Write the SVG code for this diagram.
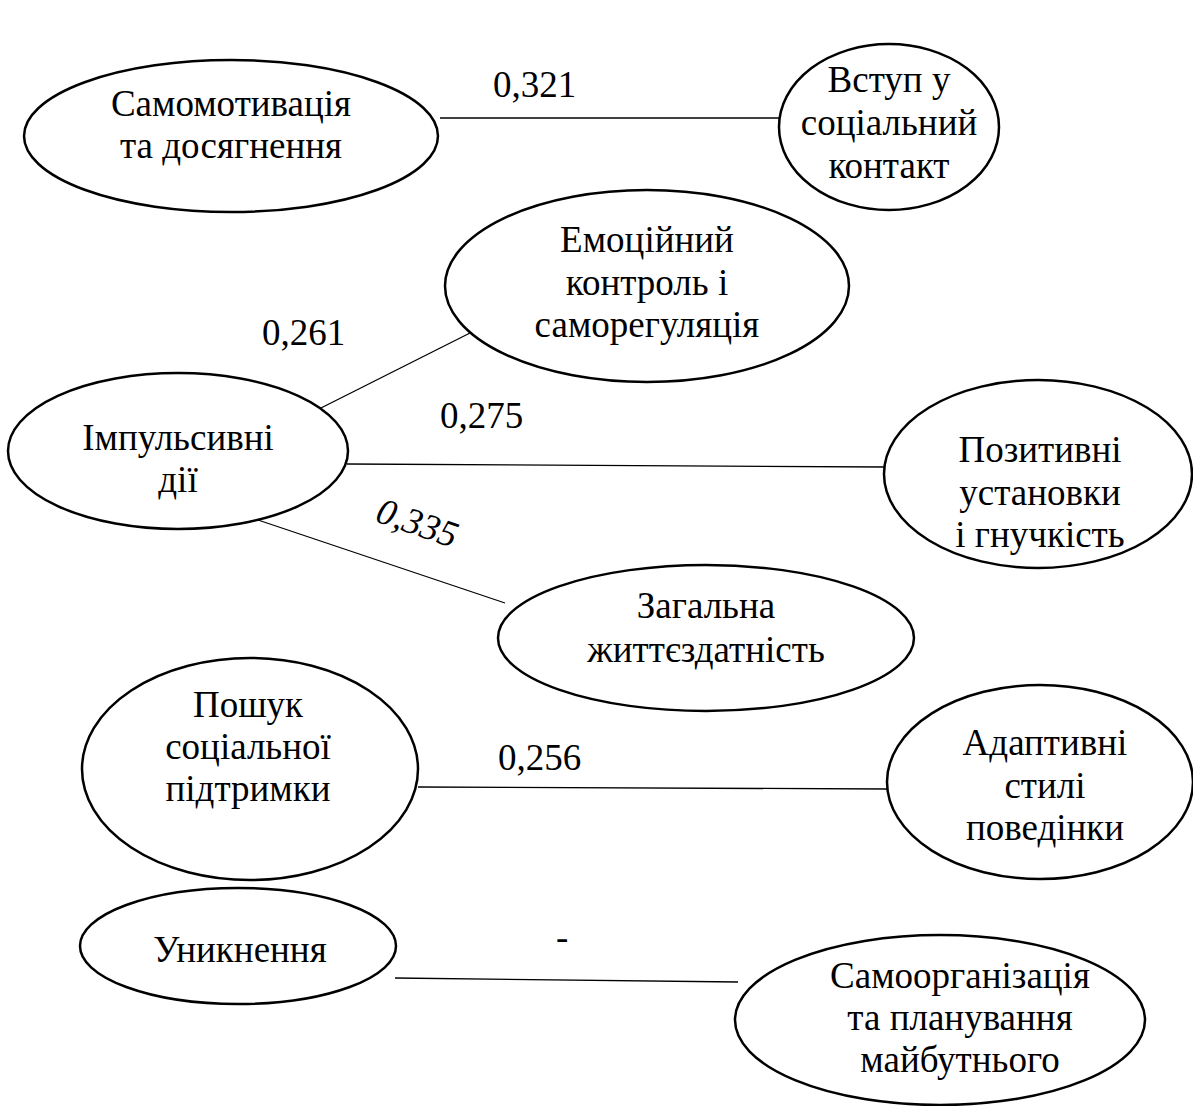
<svg xmlns="http://www.w3.org/2000/svg" width="1193" height="1106" viewBox="0 0 1193 1106" font-family="Liberation Serif, Tinos, Times New Roman, serif">
<style>
.n ellipse{fill:#fff;stroke:#000;stroke-width:2.5}
text{font-family:'Liberation Serif',Tinos,'Times New Roman',serif;font-size:37px;fill:#000}
.n text{text-anchor:middle}
.c line{stroke:#000;stroke-width:1.3}
</style>
<rect width="1193" height="1106" fill="#fff"/>
<g class="c">
<line x1="440" y1="118" x2="779" y2="118"/>
<line x1="315" y1="411" x2="470" y2="333"/>
<line x1="347" y1="464" x2="884" y2="467"/>
<line x1="258" y1="520" x2="505" y2="603"/>
<line x1="418" y1="787" x2="887" y2="789"/>
<line x1="395" y1="978" x2="738" y2="982"/>
<text x="493" y="97">0,321</text>
<text x="262" y="345">0,261</text>
<text x="440" y="428">0,275</text>
<text x="374" y="521" font-style="italic" transform="rotate(19 374 521)">0,335</text>
<text x="498" y="770">0,256</text>
<text x="556" y="950">-</text>
</g>
<g class="n" id="n1"><ellipse cx="231" cy="136" rx="207" ry="76"/><text x="231" y="116">Самомотивація</text><text x="231" y="158">та досягнення</text></g>
<g class="n" id="n2"><ellipse cx="889" cy="127" rx="110" ry="83"/><text x="889" y="92">Вступ у</text><text x="889" y="135">соціальний</text><text x="889" y="178">контакт</text></g>
<g class="n" id="n3"><ellipse cx="647" cy="286" rx="202" ry="96"/><text x="647" y="252">Емоційний</text><text x="647" y="295">контроль і</text><text x="647" y="337">саморегуляція</text></g>
<g class="n" id="n4"><ellipse cx="178" cy="451" rx="170" ry="78"/><text x="178" y="450">Імпульсивні</text><text x="178" y="492">дії</text></g>
<g class="n" id="n5"><ellipse cx="1038" cy="474" rx="154" ry="94"/><text x="1040" y="462">Позитивні</text><text x="1040" y="505">установки</text><text x="1040" y="547">і гнучкість</text></g>
<g class="n" id="n6"><ellipse cx="706" cy="638" rx="208" ry="73"/><text x="706" y="618">Загальна</text><text x="706" y="662">життєздатність</text></g>
<g class="n" id="n7"><ellipse cx="250" cy="769" rx="168" ry="111"/><text x="248" y="717">Пошук</text><text x="248" y="759">соціальної</text><text x="248" y="801">підтримки</text></g>
<g class="n" id="n8"><ellipse cx="1040" cy="782" rx="153" ry="97"/><text x="1045" y="755">Адаптивні</text><text x="1045" y="798">стилі</text><text x="1045" y="840">поведінки</text></g>
<g class="n" id="n9"><ellipse cx="238" cy="946" rx="158" ry="58"/><text x="240" y="962">Уникнення</text></g>
<g class="n" id="n10"><ellipse cx="940" cy="1020" rx="205" ry="85"/><text x="960" y="988">Самоорганізація</text><text x="960" y="1030">та планування</text><text x="960" y="1072">майбутнього</text></g>
</svg>
